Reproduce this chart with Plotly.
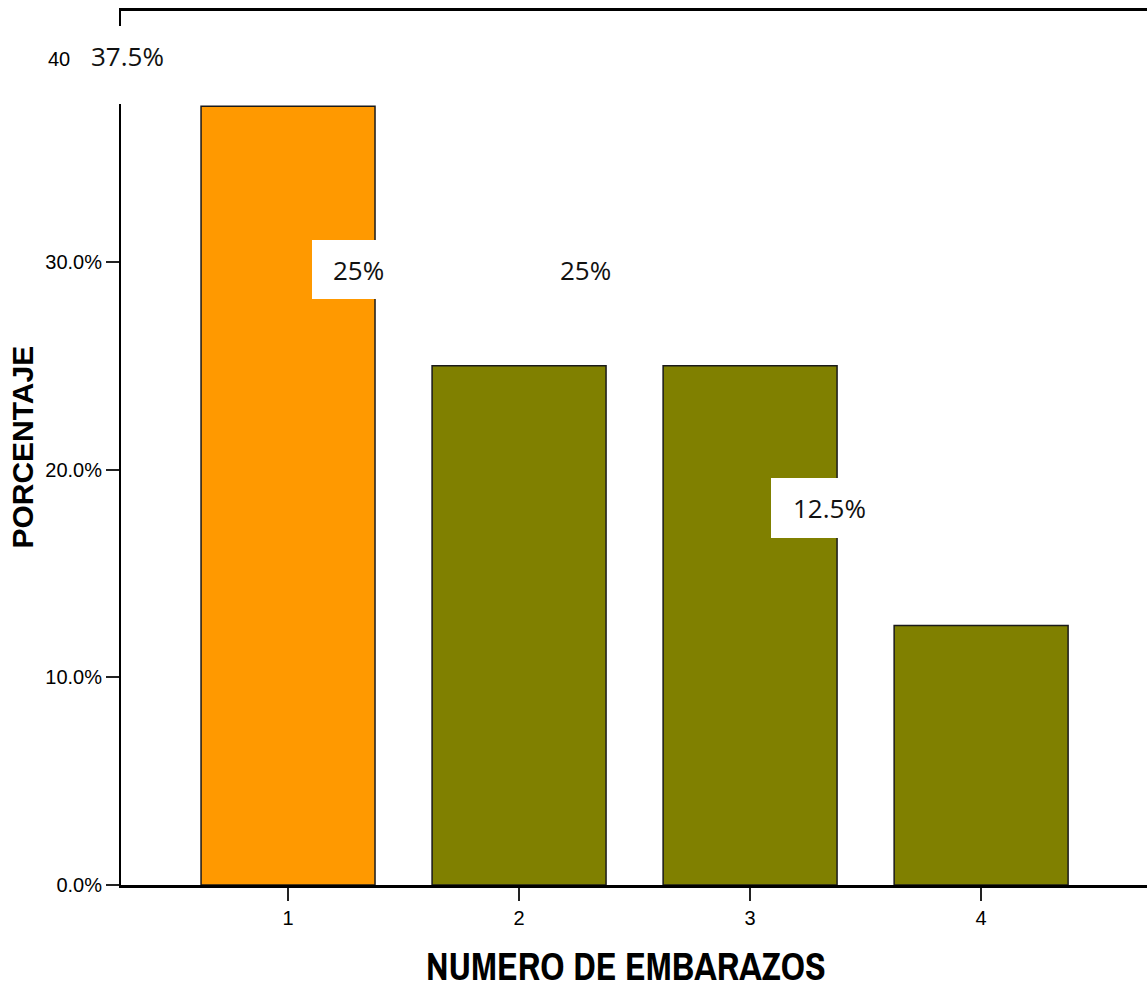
import plotly.graph_objects as go

# ---- data ----
categories = [1, 2, 3, 4]
percentages = [37.5, 25, 25, 12.5]
bar_colors = ["#FF9900", "#808000", "#808000", "#808000"]
y_tick_vals = [0, 10, 20, 30]
y_tick_text = ["0.0%", "10.0%", "20.0%", "30.0%"]
extra_tick_val = 40
extra_tick_text = "40"
x_title = "NUMERO DE EMBARAZOS"
y_title = "PORCENTAJE"

# label placement (offset style of the original)
label_x = [0.303, 1.303, 2.286, 3.342]
label_y = [39.5, 29.63, 29.6, 18.15]
label_shift = [9, 0, 0, 0]
label_w = [96, 92, 92, 116]
label_h = [78, 59, 59, 60]

fig = go.Figure()
fig.add_trace(go.Bar(
    x=categories, y=percentages, width=0.753,
    marker=dict(color=bar_colors, line=dict(color="#1a1a1a", width=1.5)),
    showlegend=False, hoverinfo="skip",
))

annotations = []
for v, lx, ly, sh, w, h in zip(percentages, label_x, label_y, label_shift, label_w, label_h):
    annotations.append(dict(
        x=lx, y=ly, xref="x", yref="y", text=" ", showarrow=False,
        bgcolor="white", width=w, height=h, borderpad=0, borderwidth=0,
    ))
    annotations.append(dict(
        x=lx, y=ly, xref="x", yref="y", yshift=sh, text=f"{v:g}%", showarrow=False,
        font=dict(family="Open Sans", size=26, color="#111111"),
    ))

annotations.append(dict(
    x=-0.0605, y=extra_tick_val - 0.25, xref="paper", yref="y", xanchor="center",
    text=extra_tick_text, showarrow=False,
    font=dict(family="Liberation Sans", size=20, color="black"),
))

annotations.append(dict(
    text=f"<b>{x_title}</b>", showarrow=False, xref="paper", yref="paper",
    x=0.492, y=0.0, yshift=-81, xanchor="center", yanchor="middle",
    font=dict(family="Archivo Narrow, DejaVu Sans Condensed, Arial Narrow", size=38, color="black"),
))
annotations.append(dict(
    text=f"<b>{y_title}</b>", showarrow=False, xref="paper", yref="y", textangle=-90,
    x=-0.0955, y=21.06, xanchor="center", yanchor="middle",
    font=dict(family="Liberation Sans, Arial", size=30, color="black"),
))

fig.update_layout(
    width=1147, height=991,
    margin=dict(l=121, r=0, t=11, b=106),
    paper_bgcolor="white", plot_bgcolor="white",
    annotations=annotations,
    xaxis=dict(
        range=[0.277, 4.718], tickvals=categories, ticktext=[str(c) for c in categories],
        showline=True, linecolor="black", linewidth=2.5, mirror=True,
        ticks="outside", ticklen=13, tickwidth=2, tickcolor="#222",
        tickfont=dict(family="Liberation Sans", size=20, color="black"),
        showgrid=False, zeroline=False,
    ),
    yaxis=dict(
        range=[0, 42.08], tickvals=y_tick_vals, ticktext=y_tick_text,
        showline=True, linecolor="black", linewidth=2, mirror=False,
        ticks="outside", ticklen=13, tickwidth=2, tickcolor="#222",
        tickfont=dict(family="Liberation Sans", size=20, color="black"),
        showgrid=False, zeroline=False,
    ),
)

fig.write_html("out.html")
